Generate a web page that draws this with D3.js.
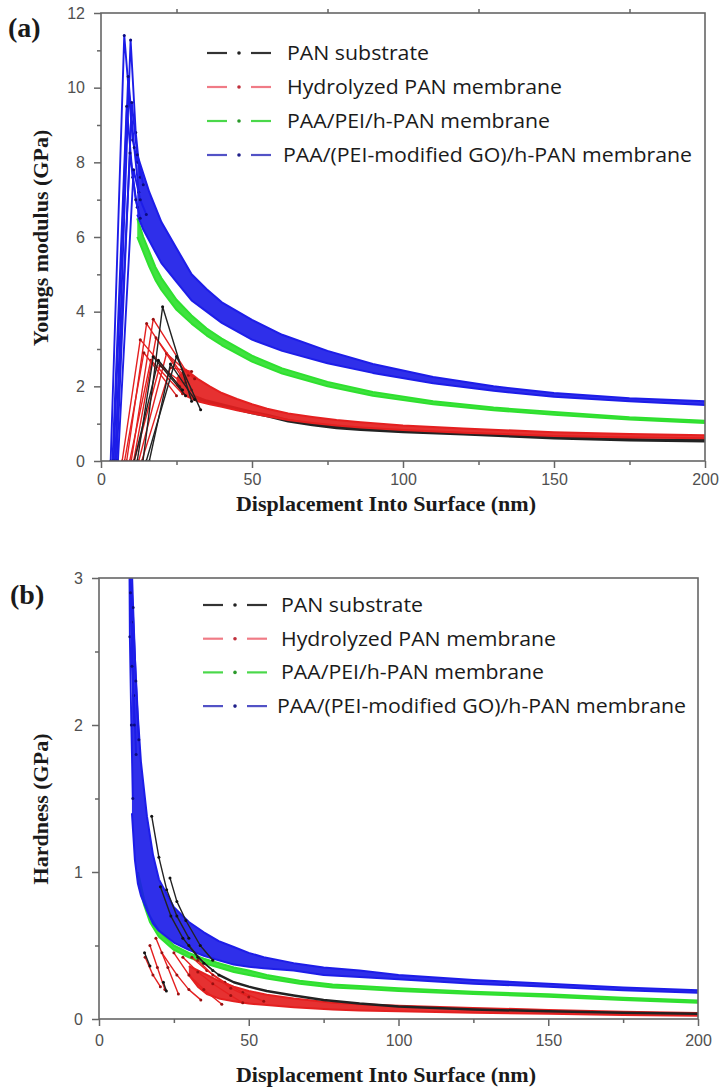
<!DOCTYPE html>
<html>
<head>
<meta charset="utf-8">
<script src="https://cdn.jsdelivr.net/npm/d3@7"></script>
<style>
  body { margin: 0; background: #fff; }
  svg { display: block; }
</style>
</head>
<body>
<svg id="fig" width="724" height="1090"></svg>
<script>
// ---------- categories and tick labels ----------
const seriesNames = [
  "PAN substrate",
  "Hydrolyzed PAN membrane",
  "PAA/PEI/h-PAN membrane",
  "PAA/(PEI-modified GO)/h-PAN membrane"
];
const xTicks = [0, 50, 100, 150, 200];
const xMinorTicks = [25, 75, 125, 175];
const modulusTicks = [0, 2, 4, 6, 8, 10, 12];
const modulusMinorTicks = [1, 3, 5, 7, 9, 11];
const hardnessTicks = [0, 1, 2, 3];
const hardnessMinorTicks = [0.5, 1.5, 2.5];

// ---------- (a) Young's modulus, GPa vs displacement, nm ----------
// PAA/(PEI-modified GO)/h-PAN: individual indents near the surface, then the band of repeats
const modBlueHeads = [
  [[3.2, 0], [7.7, 11.4], [10.5, 8.6], [12, 8.0]],
  [[4.8, 0], [9.8, 11.28], [11.5, 8.8], [13, 7.6]],
  [[4.2, 0], [9.0, 10.3], [11, 8.4], [12.5, 7.2]],
  [[3.8, 0], [8.5, 9.5], [10.5, 7.6], [12, 6.8]],
  [[5.2, 0], [10.2, 9.6], [12, 8.2], [14, 7.4]],
  [[4.6, 0], [9.6, 8.25], [11.5, 7.0], [13, 6.5]],
  [[5.6, 0], [10.8, 7.8], [13, 7.0], [15, 6.6]]
];
const modBlueUpper = [[12, 8.2], [14, 7.7], [16, 7.2], [18, 6.8], [20, 6.4], [25, 5.7], [30, 5.0], [35, 4.6], [40, 4.25], [50, 3.78], [60, 3.38], [75, 2.95], [90, 2.6], [110, 2.25], [130, 2.0], [150, 1.82], [175, 1.68], [200, 1.6]];
const modBlueLower = [[12, 6.6], [14, 6.2], [16, 5.9], [18, 5.6], [20, 5.3], [25, 4.8], [30, 4.3], [35, 4.0], [40, 3.7], [50, 3.25], [60, 2.95], [75, 2.62], [90, 2.36], [110, 2.08], [130, 1.88], [150, 1.72], [175, 1.6], [200, 1.5]];

// PAA/PEI/h-PAN
const modGreenUpper = [[12, 6.5], [14, 6.0], [16, 5.6], [18, 5.2], [20, 4.9], [25, 4.32], [30, 3.9], [35, 3.55], [40, 3.28], [50, 2.82], [60, 2.48], [75, 2.12], [90, 1.85], [110, 1.6], [130, 1.43], [150, 1.31], [175, 1.17], [200, 1.08]];
const modGreenLower = [[12, 6.0], [14, 5.6], [16, 5.2], [18, 4.85], [20, 4.58], [25, 4.05], [30, 3.68], [35, 3.36], [40, 3.1], [50, 2.66], [60, 2.34], [75, 2.0], [90, 1.75], [110, 1.52], [130, 1.36], [150, 1.24], [175, 1.11], [200, 1.02]];

// Hydrolyzed PAN
const modRedHeads = [
  [[7.0, 0], [13.0, 3.25], [26, 2.0]],
  [[8.5, 0], [15.1, 3.68], [28, 2.1]],
  [[10, 0], [17.3, 3.8], [29, 2.3]],
  [[11, 0], [19.5, 2.55], [30, 1.9]],
  [[12.5, 0], [21.7, 2.88], [31, 2.2]],
  [[9.5, 0], [16.5, 2.7], [27, 1.8]],
  [[13.5, 0], [23, 2.5], [30, 2.4]],
  [[7.8, 0], [14.2, 2.9], [25, 1.75]],
  [[10.8, 0], [18.2, 3.3], [28, 2.2]]
];
const modRedUpper = [[25, 2.2], [28, 2.45], [32, 2.2], [36, 2.0], [40, 1.82], [45, 1.66], [50, 1.52], [55, 1.4], [62, 1.27], [70, 1.18], [78, 1.1], [86, 1.04], [100, 0.95], [120, 0.87], [150, 0.77], [175, 0.72], [200, 0.69]];
const modRedLower = [[25, 2.05], [28, 1.75], [32, 1.6], [36, 1.52], [40, 1.45], [45, 1.36], [50, 1.28], [55, 1.2], [62, 1.1], [70, 1.02], [78, 0.95], [86, 0.9], [100, 0.83], [120, 0.76], [150, 0.67], [175, 0.63], [200, 0.61]];

// PAN substrate
const modBlackHeads = [
  [[13.9, 0], [20.4, 4.13], [30, 1.6]],
  [[12, 0], [17.3, 2.79], [28, 1.75]],
  [[15, 0], [25, 2.8], [33, 1.37]],
  [[11, 0], [19, 2.7], [27, 1.9]],
  [[16, 0], [23, 2.6], [31, 1.65]]
];
const modBlackTail = [[30, 1.75], [35, 1.6], [40, 1.5], [45, 1.4], [50, 1.3], [55, 1.22], [62, 1.08], [70, 0.98], [78, 0.9], [86, 0.85], [100, 0.79], [120, 0.73], [150, 0.62], [175, 0.57], [200, 0.54]];

// ---------- (b) hardness, GPa vs displacement, nm ----------
const hardBlueHeads = [
  [[10.1, 3.3], [10.3, 2.6], [10.8, 2.0], [11.3, 1.5]],
  [[10.4, 3.3], [10.9, 2.7], [11.6, 2.2], [12.4, 1.8]],
  [[10.6, 3.3], [11.4, 2.8], [12.3, 2.3], [13.3, 1.9]],
  [[10.3, 3.3], [10.5, 2.9], [11.0, 2.4], [11.8, 2.0]]
];
const hardBlueUpper = [[11, 2.9], [12, 2.45], [13, 2.05], [14, 1.75], [16, 1.38], [18, 1.12], [20, 0.95], [25, 0.76], [30, 0.66], [35, 0.59], [40, 0.53], [45, 0.49], [50, 0.45], [55, 0.42], [65, 0.38], [75, 0.35], [87, 0.33], [100, 0.3], [125, 0.265], [150, 0.24], [175, 0.215], [200, 0.195]];
const hardBlueLower = [[11, 1.4], [12, 1.08], [13, 0.92], [14, 0.84], [16, 0.74], [18, 0.65], [20, 0.6], [25, 0.52], [30, 0.47], [35, 0.43], [40, 0.4], [45, 0.37], [50, 0.355], [55, 0.345], [65, 0.33], [75, 0.3], [87, 0.285], [100, 0.27], [125, 0.24], [150, 0.22], [175, 0.195], [200, 0.178]];

const hardGreenUpper = [[13, 1.0], [15, 0.82], [17, 0.7], [20, 0.6], [25, 0.5], [30, 0.45], [35, 0.41], [40, 0.38], [45, 0.35], [50, 0.33], [56, 0.3], [67, 0.26], [78, 0.235], [87, 0.225], [100, 0.21], [125, 0.185], [150, 0.168], [175, 0.145], [200, 0.125]];
const hardGreenLower = [[13, 0.95], [15, 0.78], [17, 0.66], [20, 0.56], [25, 0.47], [30, 0.42], [35, 0.38], [40, 0.35], [45, 0.32], [50, 0.3], [56, 0.275], [67, 0.24], [78, 0.215], [87, 0.205], [100, 0.19], [125, 0.17], [150, 0.152], [175, 0.13], [200, 0.11]];

const hardRedHeads = [
  [[15.4, 0.42], [18, 0.3], [20.5, 0.22]],
  [[17, 0.5], [19.5, 0.35], [22, 0.2]],
  [[19, 0.55], [23, 0.35], [26.5, 0.17]],
  [[21, 0.45], [26, 0.3], [30, 0.2], [34, 0.13]],
  [[25, 0.45], [30, 0.3], [35, 0.2], [41, 0.1]],
  [[28, 0.42], [33, 0.32], [38, 0.24], [44, 0.16], [48, 0.11]],
  [[31, 0.42], [36, 0.33], [42, 0.25], [48, 0.18], [55, 0.12]],
  [[33, 0.4], [38, 0.3], [44, 0.21], [50, 0.15]]
];
const hardRedUpper = [[30, 0.36], [33, 0.33], [36, 0.3], [40, 0.26], [45, 0.22], [50, 0.19], [56, 0.165], [65, 0.14], [78, 0.11], [87, 0.1], [100, 0.09], [125, 0.075], [150, 0.062], [175, 0.05], [200, 0.04]];
const hardRedLower = [[30, 0.3], [33, 0.22], [36, 0.17], [40, 0.14], [45, 0.12], [50, 0.105], [56, 0.095], [65, 0.08], [78, 0.065], [87, 0.058], [100, 0.052], [125, 0.042], [150, 0.035], [175, 0.027], [200, 0.022]];

const hardBlackHeads = [
  [[17.6, 1.38], [20, 1.1], [22.6, 0.88], [26, 0.7], [30, 0.55]],
  [[23.7, 0.96], [26, 0.8], [29, 0.67], [33.8, 0.5], [38, 0.4]],
  [[20.5, 0.9], [24, 0.7], [28, 0.55], [33, 0.42], [38, 0.33]],
  [[15.2, 0.45], [17, 0.36]],
  [[21.5, 0.25], [22.5, 0.19]],
  [[30, 0.5], [35, 0.38], [40, 0.3]]
];
const hardBlackTail = [[40, 0.3], [45, 0.25], [50, 0.22], [56, 0.19], [65, 0.16], [75, 0.13], [87, 0.105], [100, 0.085], [125, 0.065], [150, 0.052], [175, 0.042], [200, 0.035]];

// ---------- styling ----------
const curveColors = { black: "#222222", red: "#e42020", green: "#2fe02f", blue: "#1d1de8" };
const markerColors = { black: "#111111", red: "#9a1010", green: "#1a9a1a", blue: "#0c0c80" };
const legendColors = ["#333333", "#f07b86", "#4ad84a", "#5252c6"];
const legendDotColors = ["#222222", "#c0303c", "#2a9a2a", "#20208a"];
const legendTextWidths = [142, 275, 263, 409];
const axisColor = "#666666";
const tickTextColor = "#505050";
const sansFont = "'Liberation Sans', Arial, sans-serif";
const serifFont = "'Liberation Serif', 'Times New Roman', serif";
const legendFont = "'Open Sans', 'Noto Sans', sans-serif";

const svg = d3.select("#fig");

const panels = [
  {
    key: "a", tag: "(a)", tagX: 8, tagY: 37,
    box: { left: 101, right: 705, top: 13, bottom: 461 },
    yMax: 12, yTicks: modulusTicks, yMinor: modulusMinorTicks, topTicks: xMinorTicks,
    xTickPad: 6,
    yTitle: "Youngs modulus (GPa)", yTitleY: 238, xTitleY: 511,
    legend: { lineX: 207, textX: 287, lastTextX: 283, firstY: 53, step: 34 },
    layers: [
      { kind: "band", upper: modGreenUpper, lower: modGreenLower, color: "green" },
      { kind: "line", data: modBlackTail, color: "black", width: 3.5 },
      { kind: "band", upper: modRedUpper, lower: modRedLower, color: "red" },
      { kind: "heads", data: modRedHeads, color: "red" },
      { kind: "heads", data: modBlackHeads, color: "black" },
      { kind: "band", upper: modBlueUpper, lower: modBlueLower, color: "blue" },
      { kind: "heads", data: modBlueHeads, color: "blue", width: 1.9 }
    ]
  },
  {
    key: "b", tag: "(b)", tagX: 10, tagY: 604,
    box: { left: 99, right: 698, top: 578, bottom: 1019 },
    yMax: 3, yTicks: hardnessTicks, yMinor: hardnessMinorTicks, topTicks: [],
    xTickPad: 9,
    yTitle: "Hardness (GPa)", yTitleY: 809, xTitleY: 1082,
    legend: { lineX: 203, textX: 281, lastTextX: 277, firstY: 605, step: 33.7 },
    layers: [
      { kind: "band", upper: hardGreenUpper, lower: hardGreenLower, color: "green" },
      { kind: "band", upper: hardBlueUpper, lower: hardBlueLower, color: "blue" },
      { kind: "heads", data: hardBlueHeads, color: "blue", width: 1.9 },
      { kind: "band", upper: hardRedUpper, lower: hardRedLower, color: "red" },
      { kind: "heads", data: hardRedHeads, color: "red" },
      { kind: "line", data: hardBlackTail, color: "black", width: 2.5 },
      { kind: "heads", data: hardBlackHeads, color: "black" }
    ]
  }
];

function styleAxis(g, fontSize) {
  g.attr("font-family", null).attr("font-size", null);
  g.select(".domain").remove();
  g.selectAll("line").attr("stroke", axisColor).attr("stroke-width", 1.5);
  g.selectAll("text")
    .attr("font-family", sansFont)
    .attr("font-size", fontSize)
    .attr("fill", tickTextColor);
}

function drawPanel(p) {
  const b = p.box;
  const x = d3.scaleLinear().domain([0, 200]).range([b.left, b.right]);
  const y = d3.scaleLinear().domain([0, p.yMax]).range([b.bottom, b.top]);

  const clipId = "clip-" + p.key;
  svg.append("clipPath").attr("id", clipId)
    .append("rect")
    .attr("x", b.left).attr("y", b.top)
    .attr("width", b.right - b.left).attr("height", b.bottom - b.top);

  const plot = svg.append("g").attr("clip-path", `url(#${clipId})`);
  const line = d3.line().x(d => x(d[0])).y(d => y(d[1]));

  p.layers.forEach(layer => {
    const c = curveColors[layer.color];
    if (layer.kind === "band") {
      const upper = layer.upper;
      const area = d3.area()
        .x(d => x(d[0]))
        .y0(d => y(d[1]))
        .y1((d, i) => y(upper[i][1]));
      plot.append("path").datum(layer.lower)
        .attr("d", area).attr("fill", c).attr("fill-opacity", 0.92);
      [layer.upper, layer.lower].forEach(edge => {
        plot.append("path").datum(edge)
          .attr("d", line).attr("fill", "none")
          .attr("stroke", c).attr("stroke-width", 2)
          .attr("stroke-linejoin", "round");
      });
    } else if (layer.kind === "line") {
      plot.append("path").datum(layer.data)
        .attr("d", line).attr("fill", "none")
        .attr("stroke", c).attr("stroke-width", layer.width)
        .attr("stroke-linejoin", "round");
    } else if (layer.kind === "heads") {
      layer.data.forEach(run => {
        plot.append("path").datum(run)
          .attr("d", line).attr("fill", "none")
          .attr("stroke", c).attr("stroke-width", layer.width || 1.4)
          .attr("stroke-linejoin", "round");
        plot.selectAll(null).data(run).enter().append("circle")
          .attr("cx", d => x(d[0])).attr("cy", d => y(d[1]))
          .attr("r", 1.5).attr("fill", markerColors[layer.color]);
      });
    }
  });

  // bottom axis: labelled majors and short minors
  const gx = svg.append("g").attr("transform", `translate(0,${b.bottom})`)
    .call(d3.axisBottom(x).tickValues(xTicks).tickSize(7).tickPadding(p.xTickPad).tickSizeOuter(0));
  styleAxis(gx, 16);
  const gxm = svg.append("g").attr("transform", `translate(0,${b.bottom})`)
    .call(d3.axisBottom(x).tickValues(xMinorTicks).tickSize(4).tickFormat("").tickSizeOuter(0));
  styleAxis(gxm, 16);

  // left axis
  const gy = svg.append("g").attr("transform", `translate(${b.left},0)`)
    .call(d3.axisLeft(y).tickValues(p.yTicks).tickSize(7).tickPadding(9).tickSizeOuter(0)
      .tickFormat(d3.format("d")));
  styleAxis(gy, 16);
  const gym = svg.append("g").attr("transform", `translate(${b.left},0)`)
    .call(d3.axisLeft(y).tickValues(p.yMinor).tickSize(4).tickFormat("").tickSizeOuter(0));
  styleAxis(gym, 16);

  // top axis ticks
  if (p.topTicks.length) {
    const gt = svg.append("g").attr("transform", `translate(0,${b.top})`)
      .call(d3.axisTop(x).tickValues(p.topTicks).tickSize(4).tickFormat("").tickSizeOuter(0));
    styleAxis(gt, 16);
  }

  // frame
  svg.append("rect")
    .attr("x", b.left).attr("y", b.top)
    .attr("width", b.right - b.left).attr("height", b.bottom - b.top)
    .attr("fill", "none").attr("stroke", axisColor).attr("stroke-width", 1.6);

  // axis titles
  svg.append("text")
    .attr("x", 386).attr("y", p.xTitleY)
    .attr("text-anchor", "middle")
    .attr("font-family", serifFont).attr("font-weight", "bold")
    .attr("font-size", 22).attr("fill", "#1a1a1a")
    .text("Displacement Into Surface (nm)");
  svg.append("text")
    .attr("transform", `translate(48,${p.yTitleY}) rotate(-90)`)
    .attr("text-anchor", "middle")
    .attr("font-family", serifFont).attr("font-weight", "bold")
    .attr("font-size", 22).attr("fill", "#1a1a1a")
    .text(p.yTitle);

  // panel tag
  svg.append("text")
    .attr("x", p.tagX).attr("y", p.tagY)
    .attr("font-family", serifFont).attr("font-weight", "bold")
    .attr("font-size", 28).attr("fill", "#1a1a1a")
    .text(p.tag);

  // legend
  const L = p.legend;
  seriesNames.forEach((name, i) => {
    const cy = L.firstY + i * L.step;
    const g = svg.append("g");
    g.append("line").attr("x1", L.lineX).attr("x2", L.lineX + 20)
      .attr("y1", cy).attr("y2", cy)
      .attr("stroke", legendColors[i]).attr("stroke-width", 2.2);
    g.append("line").attr("x1", L.lineX + 44).attr("x2", L.lineX + 64)
      .attr("y1", cy).attr("y2", cy)
      .attr("stroke", legendColors[i]).attr("stroke-width", 2.2);
    g.append("circle").attr("cx", L.lineX + 32).attr("cy", cy).attr("r", 1.8)
      .attr("fill", legendDotColors[i]);
    g.append("text")
      .attr("x", i === seriesNames.length - 1 ? L.lastTextX : L.textX)
      .attr("y", cy).attr("dy", "0.35em")
      .attr("font-family", legendFont).attr("font-size", 20)
      .attr("fill", "#1a1a1a")
      .attr("textLength", legendTextWidths[i])
      .attr("lengthAdjust", "spacingAndGlyphs")
      .text(name);
  });
}

panels.forEach(drawPanel);
</script>
</body>
</html>
